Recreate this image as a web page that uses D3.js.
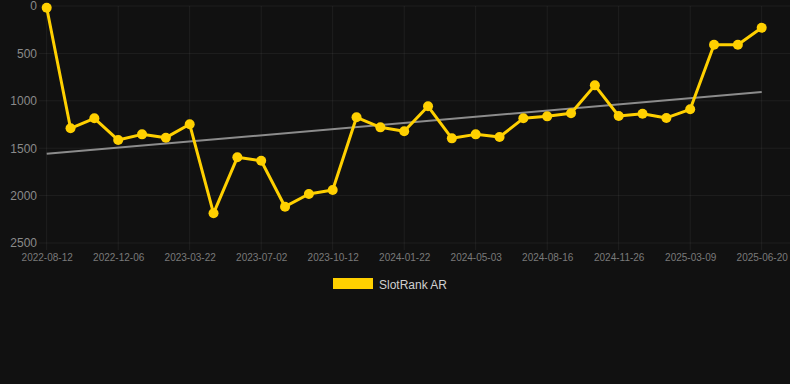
<!DOCTYPE html>
<html>
<head>
<meta charset="utf-8">
<script src="https://cdn.jsdelivr.net/npm/d3@7/dist/d3.min.js"></script>
<style>
  html, body { margin: 0; padding: 0; background: #111111; }
  svg { display: block; }
  text { font-family: "Liberation Sans", Arial, Helvetica, sans-serif; }
</style>
</head>
<body>
<svg id="chart" width="790" height="384"></svg>
<script>
const categories = [
  "2022-08-12", "2022-09-19", "2022-10-28",
  "2022-12-06", "2023-01-09", "2023-02-14",
  "2023-03-22", "2023-04-25", "2023-05-29",
  "2023-07-02", "2023-08-05", "2023-09-08",
  "2023-10-12", "2023-11-15", "2023-12-19",
  "2024-01-22", "2024-02-25", "2024-03-30",
  "2024-05-03", "2024-06-07", "2024-07-12",
  "2024-08-16", "2024-09-19", "2024-10-23",
  "2024-11-26", "2024-12-30", "2025-02-03",
  "2025-03-09", "2025-04-12", "2025-05-16",
  "2025-06-20"
];
const seriesName = "SlotRank AR";
const values = [
  18, 1290, 1185, 1414, 1354, 1389, 1248, 2187, 1596, 1632,
  2117, 1983, 1941, 1174, 1280, 1322, 1058, 1396, 1354, 1382,
  1185, 1164, 1132, 837, 1160, 1136, 1181, 1090, 408, 408, 229
];
const yTicks = [0, 500, 1000, 1500, 2000, 2500];
const xTickEvery = 3;

(function () {
const svg = d3.select("#chart");
const plotLeft = 46.7, plotRight = 761.7, plotTop = 6, plotBottom = 243;

const x = d3.scalePoint().domain(categories).range([plotLeft, plotRight]);
const y = d3.scaleLinear().domain([0, 2500]).range([plotTop, plotBottom]);

const gridColor = "rgba(255,255,255,0.06)";

// horizontal grid
svg.append("g").selectAll("line").data(yTicks).join("line")
  .attr("x1", 39).attr("x2", 790)
  .attr("y1", d => y(d)).attr("y2", d => y(d))
  .attr("stroke", gridColor).attr("stroke-width", 1);

// vertical grid
const xTickCats = categories.filter((c, i) => i % xTickEvery === 0);
svg.append("g").selectAll("line").data(xTickCats).join("line")
  .attr("x1", d => x(d)).attr("x2", d => x(d))
  .attr("y1", plotTop).attr("y2", plotBottom + 7)
  .attr("stroke", gridColor).attr("stroke-width", 1);

// y axis labels
const yAxis = d3.axisLeft(y).tickValues(yTicks).tickFormat(d3.format("d")).tickSize(0).tickPadding(0);
const yg = svg.append("g").attr("transform", "translate(37,0)").call(yAxis);
yg.select(".domain").remove();
yg.selectAll("text").attr("fill", "#8a8a8a").style("font-size", "12px")
  .style("font-family", '"Liberation Sans", Arial, sans-serif');

// x axis labels
const xAxis = d3.axisBottom(x).tickValues(xTickCats).tickSize(0).tickPadding(0);
const xg = svg.append("g").attr("transform", `translate(0,${plotBottom + 11})`).call(xAxis);
xg.select(".domain").remove();
xg.selectAll("text").attr("fill", "#7a7a7a").style("font-size", "10px")
  .style("font-family", '"Liberation Sans", Arial, sans-serif');

// trend line (linear regression)
const n = values.length;
const idx = d3.range(n);
const mx = d3.mean(idx), my = d3.mean(values);
const slope = d3.sum(idx, i => (i - mx) * (values[i] - my)) / d3.sum(idx, i => (i - mx) ** 2);
const intercept = my - slope * mx;
svg.append("line")
  .attr("x1", x(categories[0])).attr("y1", y(intercept))
  .attr("x2", x(categories[n - 1])).attr("y2", y(intercept + slope * (n - 1)))
  .attr("stroke", "#8c8c8c").attr("stroke-width", 2);

// series line
const lineColor = "#FFD000";
const line = d3.line().x((d, i) => x(categories[i])).y(d => y(d));
svg.append("path").datum(values)
  .attr("d", line).attr("fill", "none")
  .attr("stroke", lineColor).attr("stroke-width", 3)
  .attr("stroke-linejoin", "round");

svg.append("g").selectAll("circle").data(values).join("circle")
  .attr("cx", (d, i) => x(categories[i])).attr("cy", d => y(d))
  .attr("r", 5).attr("fill", lineColor);

// legend
const lg = svg.append("g");
lg.append("rect").attr("x", 333).attr("y", 278).attr("width", 40).attr("height", 11)
  .attr("fill", lineColor);
lg.append("text").attr("x", 379).attr("y", 288.5).text(seriesName)
  .attr("fill", "#d0d0d0").style("font-size", "12px");
})();
</script>
</body>
</html>
